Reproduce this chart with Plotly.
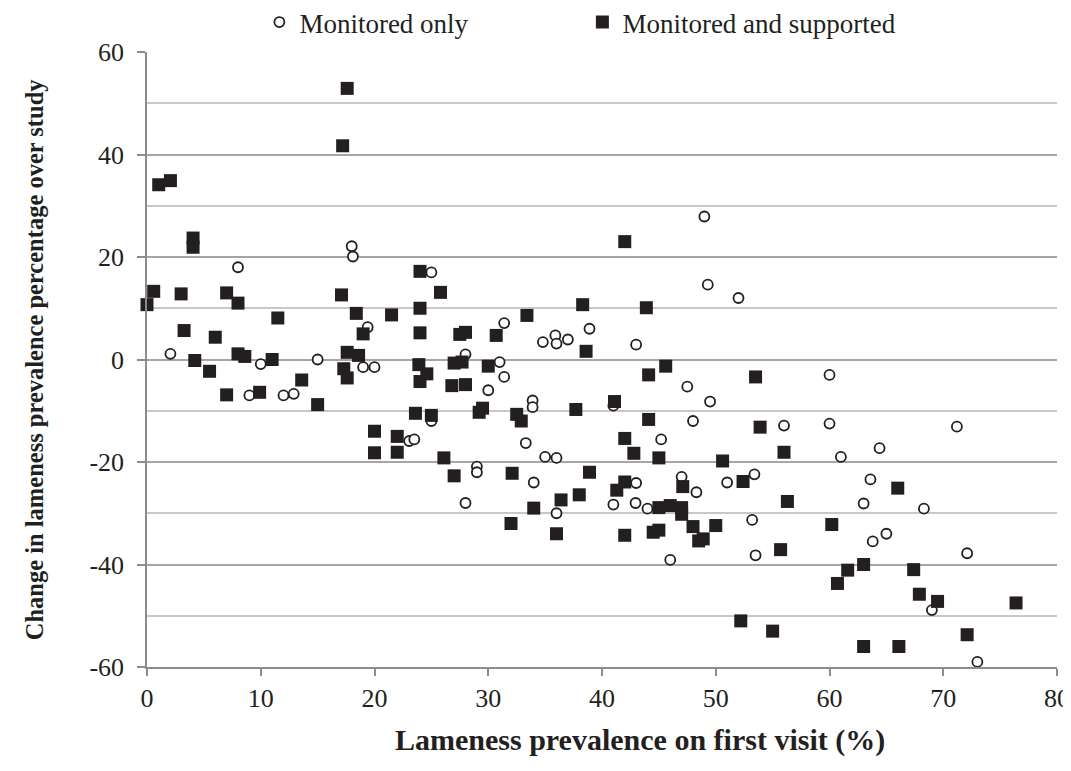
import plotly.graph_objects as go

# Monitored only (open circles)
mon_x = [2.06, 8.0, 10.0, 15.0, 18.0, 18.1, 19.0, 20.0, 19.4, 9.0, 12.0, 12.9,
         25.0, 28.0, 31.4, 34.8, 35.9, 36.0, 37.0, 38.9, 31.0, 31.4, 30.0, 33.9,
         33.9, 25.0, 23.05, 23.5, 33.3, 35.0, 36.0, 29.0, 29.0, 28.0, 34.0, 36.0,
         49.0, 49.3, 52.0, 43.0, 47.5, 49.5, 41.0, 48.0, 56.0, 45.2, 43.0, 47.0,
         48.3, 51.0, 53.4, 41.0, 42.95, 44.0, 53.2, 46.0, 53.5, 60.0, 60.0, 71.2,
         64.4, 61.0, 63.6, 63.0, 68.3, 65.0, 63.8, 72.1, 69.0, 73.0]
mon_y = [1.1, 18.0, -0.9, 0.0, 22.1, 20.1, -1.5, -1.5, 6.3, -7.0, -7.0, -6.7,
         17.0, 1.0, 7.1, 3.4, 4.7, 3.1, 3.9, 6.0, -0.5, -3.4, -6.0, -8.0,
         -9.3, -12.0, -15.9, -15.6, -16.3, -19.0, -19.2, -20.9, -22.0, -28.0, -24.0, -30.0,
         27.9, 14.6, 12.0, 2.9, -5.3, -8.2, -9.0, -12.0, -12.9, -15.6, -24.1, -22.9,
         -25.9, -24.0, -22.4, -28.3, -28.0, -29.1, -31.3, -39.1, -38.2, -3.0, -12.5, -13.1,
         -17.3, -19.0, -23.4, -28.1, -29.1, -34.0, -35.5, -37.8, -48.9, -59.0]

# Monitored and supported (filled squares)
sup_x = [17.6, 17.2, 1.03, 2.06, 4.05, 4.05, 0.59, 0.0, 3.0, 7.0, 8.0, 3.26,
         6.0, 11.5, 17.1, 18.4, 19.0, 4.2, 8.0, 8.6, 11.0, 17.6, 18.6, 5.5,
         17.3, 17.6, 7.0, 9.9, 13.6, 15.0, 20.0, 20.0, 22.0, 22.0, 24.0, 25.8,
         21.5, 24.0, 24.0, 27.5, 28.0, 30.7, 33.4, 38.3, 38.6, 23.9, 24.6, 24.0,
         27.0, 27.7, 26.8, 28.0, 30.0, 23.6, 25.0, 29.5, 29.2, 32.5, 32.9, 37.7,
         26.1, 27.0, 32.1, 34.0, 36.4, 38.0, 38.9, 32.0, 36.0, 42.0, 43.9, 45.6,
         44.1, 53.5, 41.1, 44.1, 53.9, 42.0, 42.8, 45.0, 50.6, 56.0, 42.0, 41.3,
         47.1, 52.4, 56.3, 45.0, 46.0, 47.0, 47.0, 44.5, 45.0, 48.0, 50.0, 48.5,
         48.9, 42.0, 55.7, 52.2, 55.0, 66.0, 60.2, 61.6, 63.0, 60.7, 67.4, 67.9,
         69.5, 76.4, 72.1, 63.0, 66.1]
sup_y = [52.9, 41.7, 34.1, 34.9, 23.7, 21.9, 13.3, 10.7, 12.8, 13.0, 11.0, 5.65,
         4.35, 8.1, 12.6, 9.0, 5.0, -0.2, 1.1, 0.6, 0.0, 1.4, 0.8, -2.3,
         -1.8, -3.6, -6.9, -6.4, -4.0, -8.8, -14.0, -18.2, -15.0, -18.1, 17.2, 13.1,
         8.7, 10.0, 5.2, 4.9, 5.3, 4.7, 8.6, 10.7, 1.6, -1.0, -2.8, -4.3,
         -0.7, -0.5, -5.1, -4.9, -1.3, -10.5, -10.9, -9.5, -10.3, -10.7, -12.0, -9.75,
         -19.2, -22.7, -22.2, -29.0, -27.4, -26.4, -22.0, -32.0, -34.0, 23.0, 10.1, -1.3,
         -3.0, -3.4, -8.2, -11.7, -13.2, -15.4, -18.3, -19.2, -19.8, -18.1, -23.9, -25.5,
         -24.8, -23.8, -27.7, -28.9, -28.5, -28.9, -30.2, -33.7, -33.3, -32.6, -32.4, -35.4,
         -35.0, -34.3, -37.1, -51.0, -53.0, -25.1, -32.2, -41.1, -40.0, -43.7, -41.0, -45.8,
         -47.2, -47.5, -53.7, -56.0, -56.0]

series_names = ["Monitored only", "Monitored and supported"]
x_ticks = [0, 10, 20, 30, 40, 50, 60, 70, 80]
y_ticks = [-60, -40, -20, 0, 20, 40, 60]
y_tick_labels = ["-60", "-40", "-20", "0", "20", "40", "60"]
x_title = "Lameness prevalence on first visit (%)"
y_title = "Change in lameness prevalence percentage over study"

INK = "#231f20"
FONT = "Liberation Serif"

fig = go.Figure()
fig.add_trace(go.Scatter(
    x=mon_x, y=mon_y, mode="markers", name=series_names[0], cliponaxis=False,
    marker=dict(symbol="circle", size=10, color="white",
                line=dict(color=INK, width=1.8)),
))
fig.add_trace(go.Scatter(
    x=sup_x, y=sup_y, mode="markers", name=series_names[1], cliponaxis=False,
    marker=dict(symbol="square", size=13, color=INK,
                line=dict(color=INK, width=0)),
))

# the page body has an 8px margin, so the figure is sized to fit inside the window
fig.update_layout(
    width=1063, height=750,
    margin=dict(l=139, r=14, t=44, b=91, autoexpand=False),
    plot_bgcolor="white", paper_bgcolor="white",
    font=dict(family=FONT, color=INK, size=26),
    showlegend=True,
    legend=dict(orientation="h", x=0.1235, xanchor="left",
                y=1.048, yanchor="middle",
                font=dict(family=FONT, size=27, color=INK),
                entrywidth=278, entrywidthmode="pixels",
                bgcolor="rgba(0,0,0,0)", itemsizing="trace"),
    xaxis=dict(range=[0, 80], tickvals=x_ticks, ticks="outside", ticklen=7,
               tickcolor="#8c8c8c", tickwidth=1.5,
               showline=True, linecolor="#8c8c8c", linewidth=1.5,
               showgrid=False, zeroline=False,
               tickfont=dict(family=FONT, size=26, color=INK)),
    yaxis=dict(range=[-60, 60], tickvals=y_ticks, ticktext=y_tick_labels,
               ticks="outside", ticklen=8, ticklabelstandoff=8,
               tickcolor="#8c8c8c", tickwidth=1.5,
               showline=True, linecolor="#8c8c8c", linewidth=1.5,
               showgrid=True, gridcolor="#a6a6a6", gridwidth=1.5,
               zeroline=False,
               minor=dict(dtick=10, showgrid=True, gridcolor="#c8c8c8", gridwidth=1.5),
               tickfont=dict(family=FONT, size=26, color=INK)),
    annotations=[
        dict(text="<b>" + x_title + "</b>", xref="paper", yref="paper",
             x=0.5416, y=-0.119, xanchor="center", yanchor="middle",
             showarrow=False, font=dict(family=FONT, size=30, color=INK)),
        dict(text="<b>" + y_title + "</b>", xref="paper", yref="paper",
             x=-0.1234, y=0.5, xanchor="center", yanchor="middle",
             textangle=-90, showarrow=False,
             font=dict(family=FONT, size=24.5, color=INK)),
    ],
)

fig.write_html("out.html")
